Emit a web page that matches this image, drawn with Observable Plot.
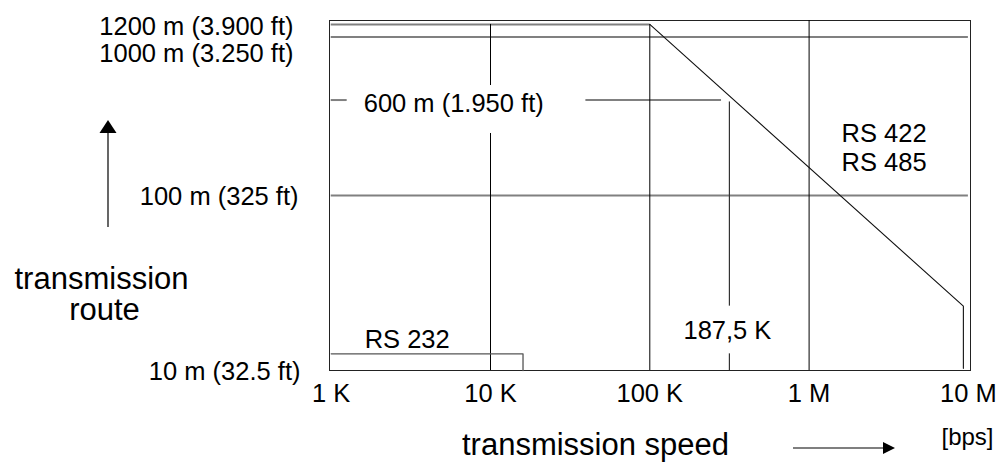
<!DOCTYPE html>
<html><head><meta charset="utf-8">
<script src="https://cdn.jsdelivr.net/npm/d3@7"></script>
<script src="https://cdn.jsdelivr.net/npm/@observablehq/plot@0.6"></script>
<style>
html,body{margin:0;padding:0;background:#fff;}
#chart svg{display:block;}
</style></head><body><div id="chart"></div>
<script>
// ---- data ----
const speedTicks = [1e3, 1e4, 1e5, 1e6, 1e7];
const speedTickLabels = ["1 K", "10 K", "100 K", "1 M", "10 M"];

const rangeLabels = ["1200 m (3.900 ft)", "1000 m (3.250 ft)", "600 m (1.950 ft)", "100 m (325 ft)", "10 m (32.5 ft)"];
const rangeLevels = [1200, 1000, 400, 100, 10];

// horizontal range guide lines
const levelY = [1200, 1000, 400, 400, 100];
const levelFrom = [1e3, 1e3, 1e3, 3.97e4, 1e3];
const levelTo = [1e5, 1e7, 1.26e3, 2.82e5, 1e7];

// vertical speed grid lines
const gridX = [1e4, 1e4, 1e5, 1e6];
const gridFrom = [1200, 246, 1200, 1271];
const gridTo = [494, 7.85, 7.85, 7.85];

// RS 422 / RS 485 limit
const rs485Speed = [1e5, 9.3e6, 9.3e6];
const rs485Range = [1200, 20, 8.1];

// RS 232 limit
const rs232Speed = [1e3, 1.6e4, 1.6e4];
const rs232Range = [10, 10, 7.85];

// 187,5 K marker
const markerSpeed = [3.16e5, 3.16e5];
const markerFrom = [389, 10];
const markerTo = [20, 7.85];

const standardLabels = ["RS 422", "RS 485"];
const standardLabelRange = [250, 162];

// ---- chart ----
const fontFamily = '"Liberation Sans", Arial, Helvetica, sans-serif';
const idx = a => a.map((_, i) => i);
const fs = 25.5;

const yLabelNudge = [[-36, 2], [-36, 16.5], null, [-31, 1], [-29, 17.7]];
const yLabelMarks = rangeLabels.map((t, i) => {
  if (i === 2) {
    return Plot.text([t], {x: () => 1.6e3, y: () => rangeLevels[i], text: d => d, textAnchor: "start", lineAnchor: "middle", dy: 4, fontSize: fs});
  }
  return Plot.text([t], {frameAnchor: "left", y: () => rangeLevels[i], text: d => d, textAnchor: "end", lineAnchor: "middle", dx: yLabelNudge[i][0], dy: yLabelNudge[i][1], fontSize: fs});
});

const decorations = (index, scales, values, dims) => {
  const g = d3.create("svg:g").attr("fill", "#000").attr("stroke", "#000");
  const ax = dims.marginLeft - 221;
  g.append("line").attr("x1", ax).attr("x2", ax).attr("y1", 227).attr("y2", 131).attr("stroke-width", 1.2);
  g.append("path").attr("stroke", "none").attr("d", `M${ax},120L${ax - 8.5},133L${ax + 8.5},133Z`);
  const ay = 448;
  g.append("line").attr("x1", 793).attr("x2", 885).attr("y1", ay).attr("y2", ay).attr("stroke-width", 1.2);
  g.append("path").attr("stroke", "none").attr("d", `M895,${ay}L883,${ay - 6}L883,${ay + 6}Z`);
  return g.node();
};

const chart = Plot.plot({
  width: 1002,
  height: 462,
  marginLeft: 329,
  marginRight: 32,
  marginTop: 20,
  marginBottom: 92,
  x: {type: "log", domain: [1e3, 1e7], insetLeft: 1.7, insetRight: 2.1, axis: null},
  y: {type: "log", domain: [7.85, 1271], axis: null},
  style: {fontFamily, fontSize: fs + "px", color: "#000", background: "#fff"},
  marks: [
    Plot.frame({stroke: "#222"}),
    Plot.ruleY(idx(levelY), {y: i => levelY[i], x1: i => levelFrom[i], x2: i => levelTo[i], stroke: "#808080", strokeWidth: 2}),
    Plot.ruleX(idx(gridX), {x: i => gridX[i], y1: i => gridFrom[i], y2: i => gridTo[i], stroke: "#000", strokeWidth: 1}),
    Plot.ruleX(idx(markerSpeed), {x: i => markerSpeed[i], y1: i => markerFrom[i], y2: i => markerTo[i], stroke: "#333", strokeWidth: 1.2}),
    Plot.line(idx(rs485Speed), {x: i => rs485Speed[i], y: i => rs485Range[i], stroke: "#111", strokeWidth: 1.1}),
    Plot.line(idx(rs232Speed), {x: i => rs232Speed[i], y: i => rs232Range[i], stroke: "#555", strokeWidth: 1.3}),
    // tick labels
    Plot.text(speedTicks, {x: d => d, text: (d, i) => speedTickLabels[i], frameAnchor: "bottom", textAnchor: "middle", lineAnchor: "middle", dy: 23, fontSize: fs}),
    ...yLabelMarks,
    // annotations
    Plot.text(["RS 232"], {x: () => 3e3, y: () => 10, text: d => d, lineAnchor: "middle", dy: -14, fontSize: fs}),
    Plot.text(["187,5 K"], {x: () => markerSpeed[0], y: () => 10, text: d => d, lineAnchor: "middle", dx: -2, dy: -23, fontSize: fs}),
    Plot.text(idx(standardLabels), {x: () => 1.6e6, y: i => standardLabelRange[i], text: i => standardLabels[i], textAnchor: "start", lineAnchor: "middle", dy: 1, fontSize: fs}),
    // axis titles
    Plot.text(["transmission"], {frameAnchor: "left", text: d => d, textAnchor: "middle", lineAnchor: "middle", dx: -228, dy: 83.4, fontSize: 31}),
    Plot.text(["route"], {frameAnchor: "left", text: d => d, textAnchor: "middle", lineAnchor: "middle", dx: -225, dy: 115, fontSize: 31}),
    Plot.text(["transmission speed"], {frameAnchor: "bottom", text: d => d, textAnchor: "middle", lineAnchor: "middle", dx: -54.5, dy: 75, fontSize: 31}),
    Plot.text(["[bps]"], {frameAnchor: "bottom-right", text: d => d, textAnchor: "end", lineAnchor: "middle", dx: 23, dy: 67.3, fontSize: 24}),
    decorations
  ]
});
document.getElementById("chart").append(chart);
</script>
</body></html>
